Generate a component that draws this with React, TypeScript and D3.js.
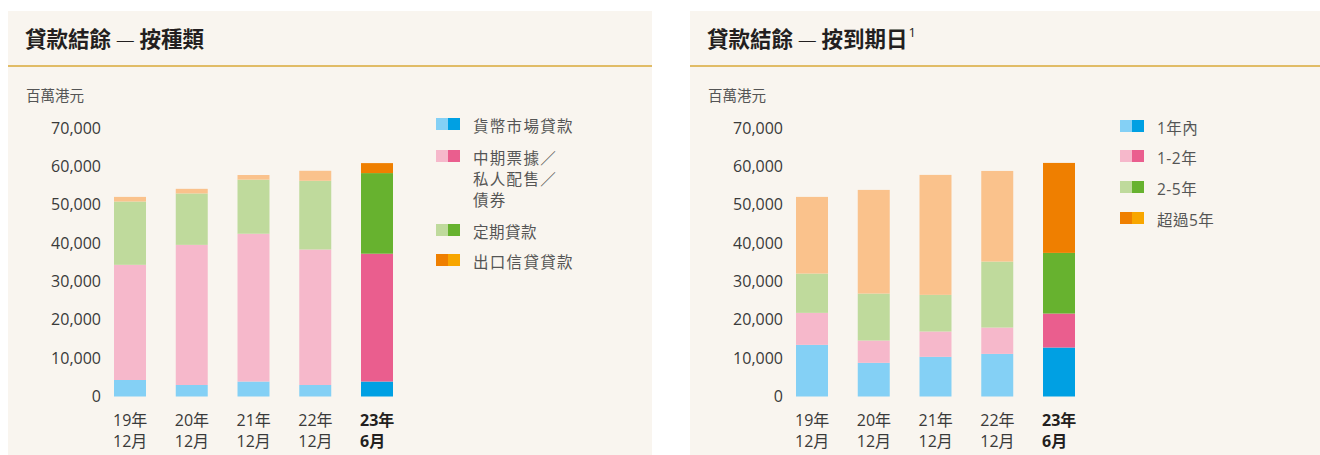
import React from "react";
import * as d3 from "d3";

const catYear = ["19年", "20年", "21年", "22年", "23年"];
const catMonth = ["12月", "12月", "12月", "12月", "6月"];
const yTicks = [0, 10000, 20000, 30000, 40000, 50000, 60000, 70000];

// 按種類
const typeMoneyMarket = [4300, 3000, 3900, 3000, 3900];
const typeMTN = [30000, 36500, 38500, 35300, 33300];
const typeTerm = [16500, 13400, 14100, 17900, 21000];
const typeExport = [1200, 1200, 1200, 2600, 2600];
const typeLabels = [["貨幣市場貸款"], ["中期票據／", "私人配售／", "債券"], ["定期貸款"], ["出口信貸貸款"]];

// 按到期日
const matWithin1 = [13450, 8770, 10330, 11100, 12760];
const mat1to2 = [8340, 5810, 6600, 6860, 8850];
const mat2to5 = [10240, 12240, 9550, 17190, 15800];
const matOver5 = [19970, 27000, 31250, 23610, 23440];
const matLabels = [["1年內"], ["1-2年"], ["2-5年"], ["超過5年"]];

const lightColors = ["#84d0f5", "#f6b8cb", "#bfda9c", "#fac28c"];
const darkColors = ["#00a0e3", "#ea5e8e", "#67b22f", "#ef7f00"];
const legendLeft = ["#84d0f5", "#f6b8cb", "#bfda9c", "#ef7f00"];
const legendRight = ["#00a0e3", "#ea5e8e", "#67b22f", "#f8a600"];

const FONT = "'Open Sans', 'Noto Sans CJK TC', sans-serif";
const CJK = "'Noto Sans CJK TC', sans-serif";

type PanelProps = {
  x0: number;
  width: number;
  titleA: string;
  titleB: string;
  sup?: string;
  series: number[][];
  labels: string[][];
  legendRows: number[];
  legendX: number;
};

function Panel({ x0, width, titleA, titleB, sup, series, labels, legendRows, legendX }: PanelProps) {
  const keys = series.map((_, i) => "s" + i);
  const rows = catYear.map((c, j) => {
    const r: any = { cat: c };
    series.forEach((s, i) => (r["s" + i] = s[j]));
    return r;
  });
  const stacked = d3.stack().keys(keys)(rows);
  const x = d3.scaleBand<string>().domain(catYear).range([106, 385]).paddingInner(0.482).paddingOuter(0);
  const y = d3.scaleLinear().domain([0, 70000]).range([396.5, 127.8]);
  const fmt = d3.format(",");
  const last = catYear.length - 1;

  return (
    <g transform={`translate(${x0},0)`}>
      <rect x={0} y={11} width={width} height={460} fill="#f9f5ef" />
      <text x={17} y={47} fontFamily={CJK} fontSize={21.5} fontWeight={700} fill="#231f20">
        {titleA}
        <tspan fontWeight={300}> — </tspan>
        {titleB}
        {sup && (
          <tspan fontSize={13} fontWeight={400} dy={-10} dx={1} fontFamily={FONT}>
            {sup}
          </tspan>
        )}
      </text>
      <line x1={0} x2={width} y1={66} y2={66} stroke="#d8a838" strokeWidth={1.6} />
      <text x={18} y={101} fontFamily={CJK} fontSize={14.5} fill="#555">
        百萬港元
      </text>
      {yTicks.map((t) => (
        <text key={t} x={93} y={y(t)} dy="0.36em" textAnchor="end" fontFamily={FONT} fontSize={16} fill="#3a3a3a">
          {fmt(t)}
        </text>
      ))}
      {stacked.map((layer, i) =>
        layer.map((d, j) => (
          <rect
            key={i + "-" + j}
            x={x(catYear[j])}
            width={x.bandwidth()}
            y={y(d[1])}
            height={y(d[0]) - y(d[1])}
            fill={j === last ? darkColors[i] : lightColors[i]}
          />
        ))
      )}
      {catYear.map((c, j) => (
        <text
          key={c}
          x={(x(c) as number) - 1}
          y={420}
          dy="0.36em"
          fontFamily={FONT}
          fontSize={16}
          fontWeight={j === last ? 700 : 400}
          fill={j === last ? "#231f20" : "#3a3a3a"}
        >
          <tspan x={(x(c) as number) - 1}>{c}</tspan>
          <tspan x={(x(c) as number) - 1} dy={21}>
            {catMonth[j]}
          </tspan>
        </text>
      ))}
      {labels.map((lab, i) => (
        <g key={i}>
          <rect x={legendX} y={legendRows[i] - 8} width={12} height={12} fill={legendLeft[i]} />
          <rect x={legendX + 12} y={legendRows[i] - 8} width={12} height={12} fill={legendRight[i]} />
          <text fontFamily={FONT} fontSize={15.5} letterSpacing={lab[0].length > 4 ? 1.3 : 0.5} fill="#555">
            {lab.map((l, k) => (
              <tspan key={k} x={legendX + 37} y={legendRows[i] + k * 21} dy="0.36em">
                {l}
              </tspan>
            ))}
          </text>
        </g>
      ))}
    </g>
  );
}

export default function App() {
  return (
    <svg width={1320} height={455} style={{ position: "absolute", left: 0, top: 0, background: "#fff" }}>
      <Panel
        x0={8}
        width={644}
        titleA="貸款結餘"
        titleB="按種類"
        series={[typeMoneyMarket, typeMTN, typeTerm, typeExport]}
        labels={typeLabels}
        legendRows={[126, 158, 232, 262]}
        legendX={428}
      />
      <Panel
        x0={690}
        width={644}
        titleA="貸款結餘"
        titleB="按到期日"
        sup="1"
        series={[matWithin1, mat1to2, mat2to5, matOver5]}
        labels={matLabels}
        legendRows={[128, 158, 189, 220]}
        legendX={430}
      />
    </svg>
  );
}
